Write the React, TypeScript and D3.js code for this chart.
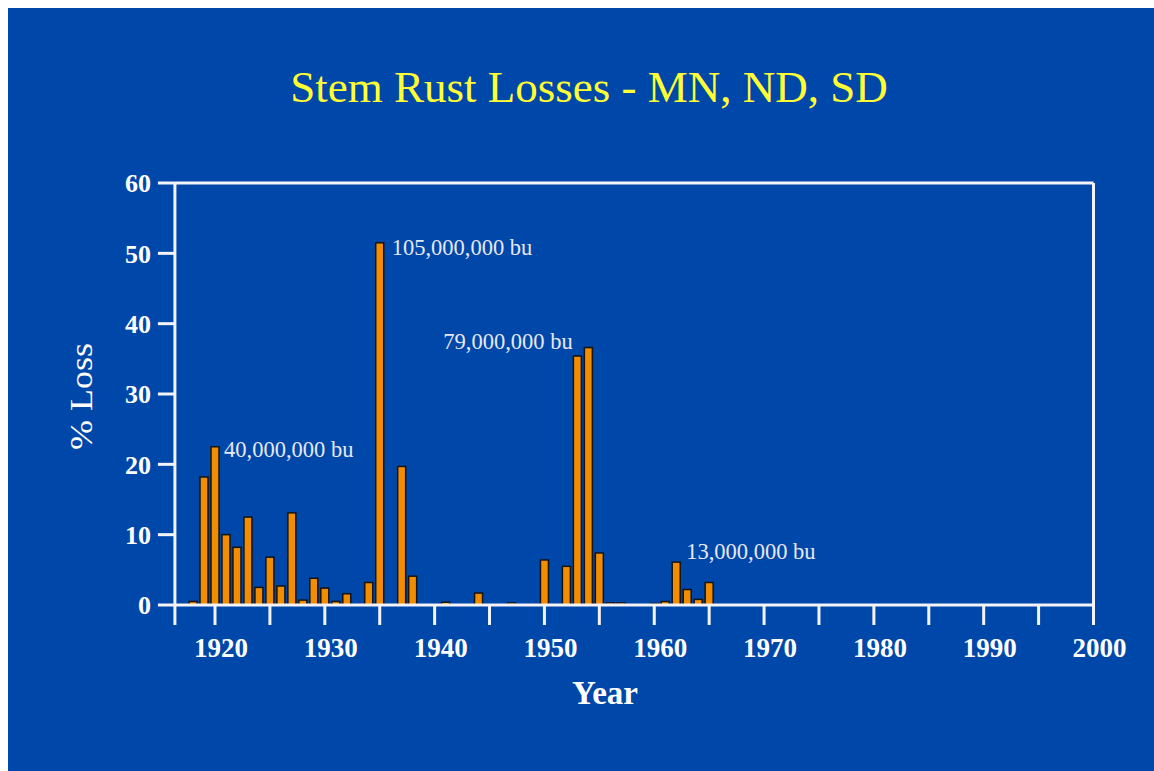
import * as d3 from "d3";

const W = 1154;
const H = 771;

// year / % loss
const YEARS = [
  1918, 1919, 1920, 1921, 1922, 1923, 1924, 1925, 1926, 1927, 1928, 1929, 1930, 1931, 1932,
  1934, 1935, 1937, 1938, 1941, 1944, 1947, 1950, 1952, 1953, 1954, 1955, 1956, 1957,
  1960, 1961, 1962, 1963, 1964, 1965,
];
const LOSS = [
  0.5, 18.2, 22.5, 10.0, 8.2, 12.5, 2.5, 6.8, 2.7, 13.1, 0.7, 3.8, 2.4, 0.5, 1.6,
  3.2, 51.5, 19.7, 4.1, 0.4, 1.7, 0.3, 6.4, 5.5, 35.4, 36.6, 7.4, 0.3, 0.3,
  0.2, 0.5, 6.1, 2.2, 0.8, 3.2,
];

const Y_TICKS = [0, 10, 20, 30, 40, 50, 60];
const X_LABELS = [1920, 1930, 1940, 1950, 1960, 1970, 1980, 1990, 2000];
const X_MINOR = d3.range(1920, 2001, 5);

const NOTE_TEXT = ["40,000,000 bu", "105,000,000 bu", "79,000,000 bu", "13,000,000 bu"];
const NOTE_YEAR = [1920, 1935, 1954, 1962];
const NOTE_VALUE = [22.5, 51.5, 36.6, 6.1];

const BG = "#0047aa";
const FONT = "'Liberation Serif', 'Times New Roman', serif";

const X_START = 1916.35;
const BAR_W = 8;

export default function App() {
  const x = d3.scaleLinear().domain([1920, 2000]).range([215, 1093.5]);
  const y = d3.scaleLinear().domain([0, 60]).range([605, 183]);
  const left = x(X_START);
  const right = x(2000);

  // label placement relative to the bar tops
  const notes = NOTE_TEXT.map((t, i) => {
    const bx = x(NOTE_YEAR[i]);
    const by = y(NOTE_VALUE[i]);
    if (i === 2) return { t, x: bx - 145, y: by + 1 };
    if (i === 3) return { t, x: bx + 10, y: by - 3 };
    if (i === 1) return { t, x: bx + 12, y: by + 12 };
    return { t, x: bx + 9, y: by + 10 };
  });

  return (
    <svg
      width={W}
      height={H}
      style={{ position: "absolute", left: 0, top: 0 }}
      fontFamily={FONT}
    >
      <rect x={0} y={0} width={W} height={H} fill="#fff" />
      <rect x={8} y={8} width={W - 8} height={H - 8} fill={BG} />

      <text x={589} y={102} textAnchor="middle" fontSize={45} fill="#ffff33">
        Stem Rust Losses - MN, ND, SD
      </text>

      {/* bars */}
      {YEARS.map((yr, i) => (
        <rect
          key={yr}
          x={x(yr) - BAR_W / 2}
          y={y(LOSS[i])}
          width={BAR_W}
          height={y(0) - y(LOSS[i])}
          fill="#f28c00"
          stroke="#141414"
          strokeWidth={1.5}
        />
      ))}

      {/* frame and axes */}
      <g stroke="#f4f4f8" strokeWidth={3} fill="none">
        <line x1={left} x2={right} y1={y(60)} y2={y(60)} />
        <line x1={right} x2={right} y1={y(60)} y2={y(0)} />
        <line x1={left} x2={right} y1={y(0)} y2={y(0)} />
        <line x1={left} x2={left} y1={y(60)} y2={y(0) + 20} />
        {Y_TICKS.map((v) => (
          <line key={v} x1={left - 17} x2={left} y1={y(v)} y2={y(v)} />
        ))}
        {X_MINOR.map((v) => (
          <line key={v} x1={x(v)} x2={x(v)} y1={y(0)} y2={y(0) + 20} />
        ))}
      </g>

      {/* tick labels */}
      <g fill="#fff" fontWeight="bold">
        {Y_TICKS.map((v) => (
          <text key={v} x={151} y={y(v)} dy="0.36em" textAnchor="end" fontSize={26}>
            {v}
          </text>
        ))}
        {X_LABELS.map((v) => (
          <text key={v} x={x(v) + 6} y={657} textAnchor="middle" fontSize={27}>
            {v}
          </text>
        ))}
      </g>

      {/* axis titles */}
      <text
        transform="translate(92,396.5) rotate(-90)"
        textAnchor="middle"
        fontSize={31}
        fill="#fff"
        textLength={107}
        lengthAdjust="spacingAndGlyphs"
      >
        % Loss
      </text>
      <text x={605} y={704} textAnchor="middle" fontSize={33} fontWeight="bold" fill="#fff">
        Year
      </text>

      {/* annotations */}
      {notes.map((n) => (
        <text key={n.t} x={n.x} y={n.y} fontSize={22.5} fill="#e8e8f0">
          {n.t}
        </text>
      ))}
    </svg>
  );
}
